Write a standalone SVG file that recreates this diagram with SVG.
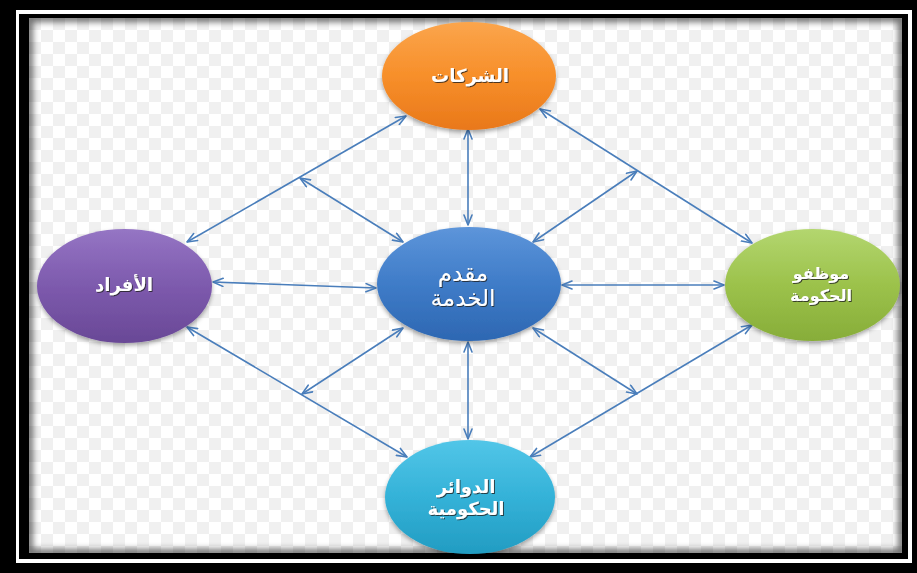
<svg xmlns="http://www.w3.org/2000/svg" width="917" height="573" viewBox="0 0 917 573">
<defs>
<style>
.conn line{stroke:#4a7ebb;stroke-width:1.6;fill:none;marker-start:url(#ah);marker-end:url(#ah)}
.lbl{fill:#ffffff;font-family:"DejaVu Sans",sans-serif;text-anchor:middle;direction:rtl;filter:url(#ts)}
.b{font-weight:bold;font-size:18px}
.c{font-size:23px}
.node ellipse{filter:url(#sh)}
</style>
<pattern id="chk" x="29" y="18" width="24" height="24" patternUnits="userSpaceOnUse">
<rect width="24" height="24" fill="#ffffff"/>
<rect width="12" height="12" fill="#f0f0f0"/>
<rect x="12" y="12" width="12" height="12" fill="#f0f0f0"/>
</pattern>
<clipPath id="cc"><rect x="29" y="18" width="873" height="535"/></clipPath>
<filter id="blur" x="-5%" y="-5%" width="110%" height="110%"><feGaussianBlur stdDeviation="3"/></filter>
<filter id="sh" x="-20%" y="-20%" width="140%" height="150%"><feDropShadow dx="0" dy="2.5" stdDeviation="2" flood-color="#000" flood-opacity="0.35"/></filter>
<filter id="ts" x="-20%" y="-30%" width="140%" height="160%"><feDropShadow dx="1" dy="1" stdDeviation="0.7" flood-color="#222" flood-opacity="0.8"/></filter>
<marker id="ah" viewBox="0 0 12 10" refX="11" refY="5" markerWidth="12" markerHeight="10" markerUnits="userSpaceOnUse" orient="auto-start-reverse">
<path d="M1,1 L11,5 L1,9" fill="none" stroke="#4a7ebb" stroke-width="1.6" stroke-linejoin="round" stroke-linecap="round"/>
</marker>
<linearGradient id="gOr" x1="0" y1="0" x2="0" y2="1"><stop offset="0" stop-color="#fba54c"/><stop offset="0.5" stop-color="#f78f2a"/><stop offset="1" stop-color="#e9781a"/></linearGradient>
<linearGradient id="gBl" x1="0" y1="0" x2="0" y2="1"><stop offset="0" stop-color="#5d95da"/><stop offset="0.5" stop-color="#3f7cc8"/><stop offset="1" stop-color="#2d67b2"/></linearGradient>
<linearGradient id="gPu" x1="0" y1="0" x2="0" y2="1"><stop offset="0" stop-color="#9575c4"/><stop offset="0.5" stop-color="#7d5aad"/><stop offset="1" stop-color="#694896"/></linearGradient>
<linearGradient id="gGr" x1="0" y1="0" x2="0" y2="1"><stop offset="0" stop-color="#b3d66f"/><stop offset="0.5" stop-color="#9cc24b"/><stop offset="1" stop-color="#87ad39"/></linearGradient>
<linearGradient id="gTe" x1="0" y1="0" x2="0" y2="1"><stop offset="0" stop-color="#52c6e8"/><stop offset="0.5" stop-color="#34b2d8"/><stop offset="1" stop-color="#229cc2"/></linearGradient>
</defs>

<g id="frame">
<rect x="0" y="0" width="917" height="573" fill="#000"/>
<rect x="16" y="10" width="896" height="553" fill="#fff"/>
<rect x="19" y="14" width="889" height="545" fill="#000"/>
<rect x="29" y="18" width="873" height="535" fill="url(#chk)"/>
<g clip-path="url(#cc)"><rect x="29" y="18" width="873" height="535" fill="none" stroke="#000" stroke-width="8" opacity="0.55" filter="url(#blur)"/></g>
</g>

<g id="connectors" class="conn">
<line x1="406" y1="116" x2="187" y2="242"/>
<line x1="300" y1="178" x2="403" y2="242"/>
<line x1="540" y1="109" x2="752" y2="243"/>
<line x1="637" y1="171" x2="533" y2="242"/>
<line x1="187" y1="327" x2="407" y2="457"/>
<line x1="302" y1="394" x2="403" y2="328"/>
<line x1="752" y1="325" x2="530" y2="457"/>
<line x1="637" y1="394" x2="533" y2="328"/>
<line x1="468" y1="129" x2="468" y2="225"/>
<line x1="468" y1="342" x2="468" y2="439"/>
<line x1="213" y1="282" x2="376" y2="288"/>
<line x1="562" y1="285" x2="724" y2="285"/>
</g>

<g id="node-companies" class="node">
<ellipse cx="469" cy="76" rx="87" ry="54" fill="url(#gOr)"/>
<text class="lbl b" x="470" y="82">الشركات</text>
</g>

<g id="node-provider" class="node">
<ellipse cx="469" cy="284" rx="92" ry="57" fill="url(#gBl)"/>
<text class="lbl c" x="463" y="281">مقدم</text>
<text class="lbl c" x="463" y="306">الخدمة</text>
</g>

<g id="node-individuals" class="node">
<ellipse cx="124.5" cy="286" rx="87.5" ry="57" fill="url(#gPu)"/>
<text class="lbl b" x="124" y="291">الأفراد</text>
</g>

<g id="node-employees" class="node">
<ellipse cx="812.5" cy="285" rx="87.5" ry="56" fill="url(#gGr)"/>
<text class="lbl b" x="821" y="279" style="font-size:16px">موظفو</text>
<text class="lbl b" x="821" y="301" style="font-size:16px">الحكومة</text>
</g>

<g id="node-departments" class="node">
<ellipse cx="470" cy="497" rx="85" ry="57" fill="url(#gTe)"/>
<text class="lbl b" x="466" y="493">الدوائر</text>
<text class="lbl b" x="466" y="515">الحكومية</text>
</g>
</svg>
